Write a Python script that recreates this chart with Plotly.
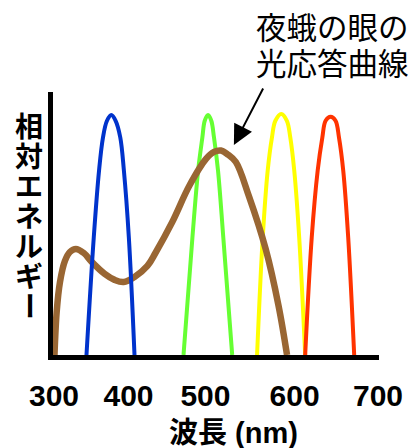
import plotly.graph_objects as go

# ---- data (wavelength in nm, relative energy) ----
blue_x = [340.1, 349.1, 355.6, 360.5, 365.4, 370.8, 376.1, 381.8, 386.3, 392.4, 399.4]
blue_y = [0.0, 0.49, 0.768, 0.907, 0.976, 1.0, 0.976, 0.907, 0.768, 0.49, 0.0]

green_x = [459.9, 470.9, 477.9, 483.2, 486.1, 490.2, 494.2, 497.5, 502.5, 509.0, 520.0]
green_y = [0.0, 0.49, 0.768, 0.907, 0.976, 1.0, 0.976, 0.907, 0.768, 0.49, 0.0]

yellow_x = [550.7, 557.7, 563.8, 569.1, 573.3, 580.6, 587.5, 591.7, 596.6, 602.7, 610.1]
yellow_y = [0.0, 0.49, 0.768, 0.907, 0.976, 1.004, 0.976, 0.907, 0.768, 0.49, 0.0]

red_x = [610.1, 618.2, 625.5, 631.3, 635.3, 641.5, 647.6, 651.8, 657.1, 663.2, 670.6]
red_y = [0.0, 0.49, 0.768, 0.907, 0.976, 0.993, 0.976, 0.907, 0.768, 0.49, 0.0]

moth_x = [300.6, 303.3, 307.4, 313.5, 319.6, 327.0, 336.8, 346.6, 362.6, 374.8, 385.9,
          399.4, 415.3, 425.2, 446.0, 466.9, 487.7, 497.5, 506.1, 514.7, 524.5, 540.5,
          561.3, 577.3, 587.7]
moth_y = [0.0, 0.179, 0.304, 0.392, 0.429, 0.442, 0.425, 0.388, 0.338, 0.313, 0.304,
          0.325, 0.371, 0.425, 0.554, 0.704, 0.817, 0.846, 0.852, 0.835, 0.804, 0.663,
          0.442, 0.204, 0.0]

tick_pos = [300, 392, 487, 597, 700]
tick_labels = ["300", "400", "500", "600", "700"]
x_title = "波長 (nm)"
y_title_chars = ["相", "対", "エ", "ネ", "ル", "ギ", "ー"]
note_lines = ["夜蛾の眼の", "光応答曲線"]

# ---- layout geometry (body margin removed by post_script) ----
W, H = 415, 448
L, R, T, B = 53, 381, 92, 355
pw, ph = R - L, B - T

def px2paper(x, y):
    return (x - L) / pw, (B - y) / ph

fig = go.Figure()

def add_curve(xs, ys, color, width):
    fig.add_trace(go.Scatter(x=xs, y=ys, mode="lines",
                             line=dict(color=color, width=width, shape="spline", smoothing=1.0),
                             hoverinfo="skip", showlegend=False))

add_curve(green_x, green_y, "#66FF33", 4)
add_curve(yellow_x, yellow_y, "#FFFF00", 4)
add_curve(red_x, red_y, "#FF3300", 4)
add_curve(moth_x, moth_y, "#996633", 6.5)
add_curve(blue_x, blue_y, "#0033CC", 4)

FONT = "Liberation Sans, Arial, Noto Sans CJK JP, sans-serif"

annotations = []
centers = [127, 157, 187, 217, 247, 277, 306]
for ch, cy in zip(y_title_chars, centers):
    xp, yp = px2paper(29, cy)
    annotations.append(dict(text=ch, x=xp, y=yp, xref="paper", yref="paper",
                            showarrow=False, xanchor="center", yanchor="middle",
                            textangle=90 if ch == "ー" else 0,
                            font=dict(family=FONT, size=28, color="black", weight="bold")))
xp, yp = px2paper(235, 433)
annotations.append(dict(text=x_title, x=xp, y=yp, xref="paper", yref="paper",
                        showarrow=False, xanchor="center", yanchor="middle",
                        font=dict(family=FONT, size=29, color="black", weight="bold")))
for line, cy in zip(note_lines, [27.5, 64]):
    xp, yp = px2paper(334, cy)
    annotations.append(dict(text=line, x=xp, y=yp, xref="paper", yref="paper",
                            showarrow=False, xanchor="center", yanchor="middle",
                            font=dict(family=FONT, size=30.5, color="black")))
xp, yp = px2paper(235, 145)
annotations.append(dict(text="", x=xp, y=yp, xref="paper", yref="paper",
                        showarrow=True, ax=30, ay=-58, arrowhead=2, arrowsize=2,
                        arrowwidth=2, arrowcolor="black"))

fig.update_layout(
    width=W, height=H,
    margin=dict(l=L, r=W - R, t=T, b=H - B, pad=0),
    paper_bgcolor="white", plot_bgcolor="white",
    xaxis=dict(range=[298.77, 701.23], showgrid=False, zeroline=False,
               showline=True, linewidth=5, linecolor="black",
               tickmode="array", tickvals=tick_pos, ticktext=tick_labels,
               ticks="", ticklabelstandoff=10,
               tickfont=dict(family=FONT, size=30, color="black", weight="bold")),
    yaxis=dict(range=[0, ph / 240], showgrid=False, zeroline=False,
               showline=True, linewidth=5, linecolor="black",
               showticklabels=False, ticks=""),
    annotations=annotations,
    showlegend=False,
)

fig.write_html("out.html", config={"displayModeBar": False},
               post_script="document.body.style.margin='0';document.body.style.overflow='hidden';")
